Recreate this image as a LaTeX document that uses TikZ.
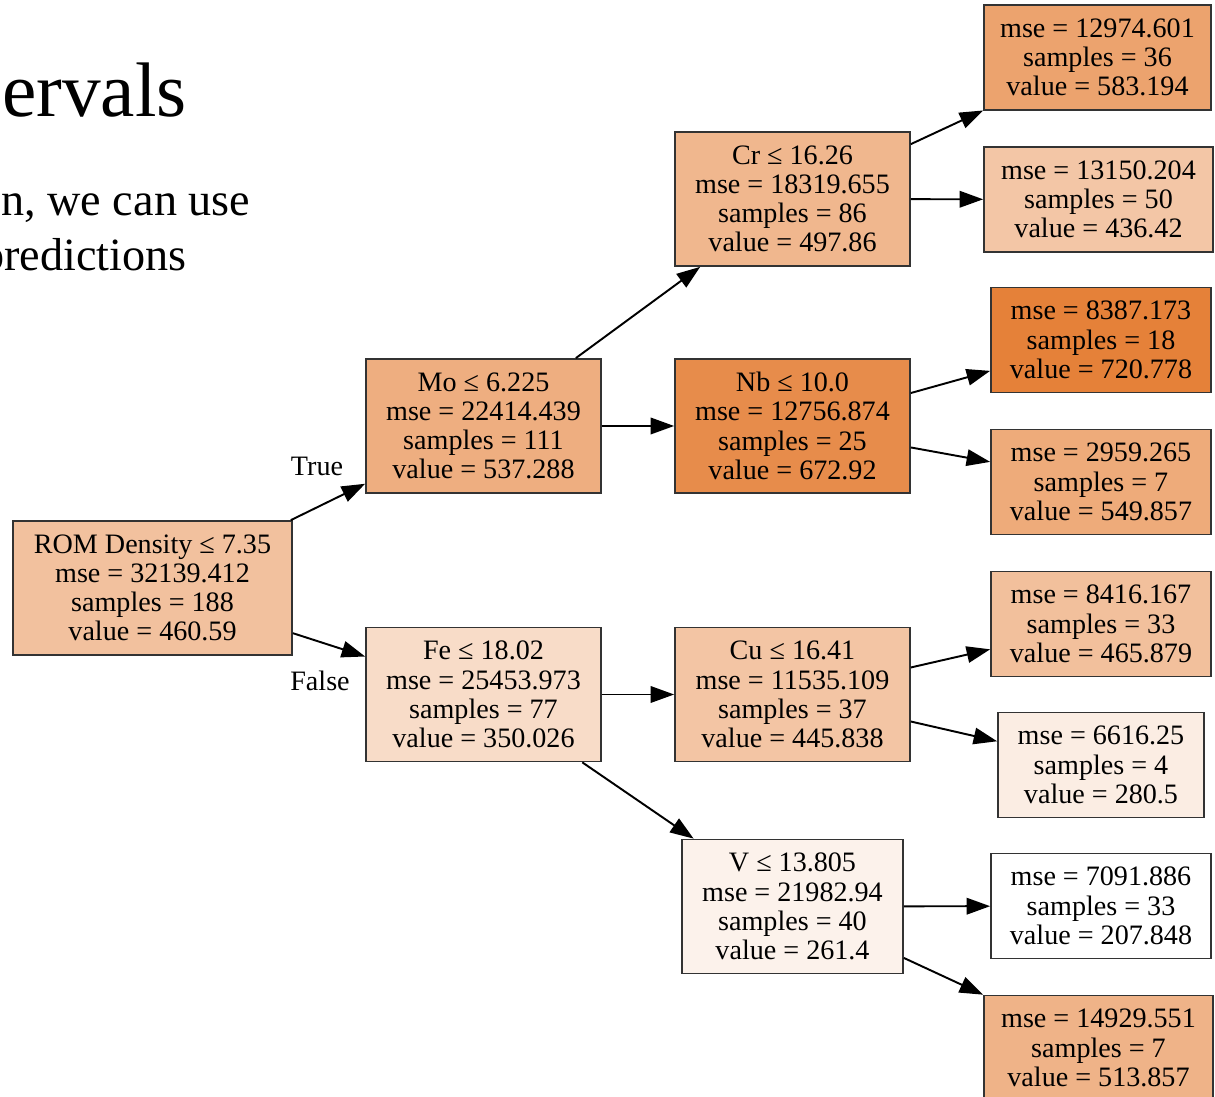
\documentclass[tikz,border=0pt]{standalone}
\usepackage{fontspec}
\setmainfont{Liberation Serif}
\usetikzlibrary{arrows.meta,positioning}
\definecolor{treeorange}{HTML}{E58139}
\definecolor{boxline}{HTML}{333333}

\begin{document}
\begin{tikzpicture}[x=0.02cm,y=-0.02cm,>={Triangle[length=0.47cm,width=0.33cm]},
 split/.style={draw=boxline,line width=1pt,align=center,inner sep=0pt,
   minimum width=4.7cm,minimum height=2.68cm,font=\fontsize{16}{16.6}\selectfont},
 leaf/.style={split,minimum height=2.1cm},
 edge/.style={->,line width=1.1pt},
 lbl/.style={font=\fontsize{16}{16.6}\selectfont}]
\clip (0,0) rectangle (1215,1097);
% slide text behind the tree
\node[anchor=base east,inner sep=0pt,font=\fontsize{44}{50}\selectfont] (title) at (187,117) {ervals};
\node[anchor=base west,inner sep=0pt,font=\fontsize{26.3}{30}\selectfont] (body1) at (1,216) {n, we can use};
\node[anchor=base east,inner sep=0pt,font=\fontsize{26.3}{30}\selectfont] (body2) at (187,271) {predictions};
% split nodes
\node[split,fill=treeorange!49,minimum width=5.58cm] (root) at (152.5,588) {ROM Density ≤ 7.35\\mse = 32139.412\\samples = 188\\value = 460.59};
\node[split,fill=treeorange!64] (mo) at (483.5,426) {Mo ≤ 6.225\\mse = 22414.439\\samples = 111\\value = 537.288};
\node[split,fill=treeorange!28] (fe) at (483.5,694.5) {Fe ≤ 18.02\\mse = 25453.973\\samples = 77\\value = 350.026};
\node[split,fill=treeorange!57] (cr) at (792.5,199) {Cr ≤ 16.26\\mse = 18319.655\\samples = 86\\value = 497.86};
\node[split,fill=treeorange!91] (nb) at (792.5,426) {Nb ≤ 10.0\\mse = 12756.874\\samples = 25\\value = 672.92};
\node[split,fill=treeorange!46] (cu) at (792.5,694.5) {Cu ≤ 16.41\\mse = 11535.109\\samples = 37\\value = 445.838};
\node[split,fill=treeorange!10,minimum width=4.42cm] (v) at (792.5,906.5) {V ≤ 13.805\\mse = 21982.94\\samples = 40\\value = 261.4};
% leaves
\node[leaf,fill=treeorange!73,minimum width=4.54cm] (lcr1) at (1097.5,57.5) {mse = 12974.601\\samples = 36\\value = 583.194};
\node[leaf,fill=treeorange!45,minimum width=4.58cm] (lcr2) at (1098.5,199.5) {mse = 13150.204\\samples = 50\\value = 436.42};
\node[leaf,fill=treeorange!100,minimum width=4.4cm] (lnb1) at (1101,340) {mse = 8387.173\\samples = 18\\value = 720.778};
\node[leaf,fill=treeorange!67,minimum width=4.4cm] (lnb2) at (1101,482) {mse = 2959.265\\samples = 7\\value = 549.857};
\node[leaf,fill=treeorange!50,minimum width=4.4cm] (lcu1) at (1101,624) {mse = 8416.167\\samples = 33\\value = 465.879};
\node[leaf,fill=treeorange!14,minimum width=4.12cm] (lcu2) at (1101,765) {mse = 6616.25\\samples = 4\\value = 280.5};
\node[leaf,fill=white,minimum width=4.4cm] (lv1) at (1101,906) {mse = 7091.886\\samples = 33\\value = 207.848};
\node[leaf,fill=treeorange!60,minimum width=4.58cm] (lv2) at (1098.5,1048) {mse = 14929.551\\samples = 7\\value = 513.857};
% edges
\draw[edge] (root) -- (mo);
\draw[edge] (root) -- (fe);
\draw[edge] (mo) -- (cr);
\draw[edge] (mo) -- (nb);
\draw[edge] (fe) -- (cu);
\draw[edge] (fe) -- (v);
\draw[edge] (cr) -- (lcr1);
\draw[edge] (cr) -- (lcr2);
\draw[edge] (nb) -- (lnb1);
\draw[edge] (nb) -- (lnb2);
\draw[edge] (cu) -- (lcu1);
\draw[edge] (cu) -- (lcu2);
\draw[edge] (v) -- (lv1);
\draw[edge] (v) -- (lv2);
\node[lbl] (truelbl) at (317,466) {True};
\node[lbl] (falselbl) at (320,681) {False};
\end{tikzpicture}
\end{document}
